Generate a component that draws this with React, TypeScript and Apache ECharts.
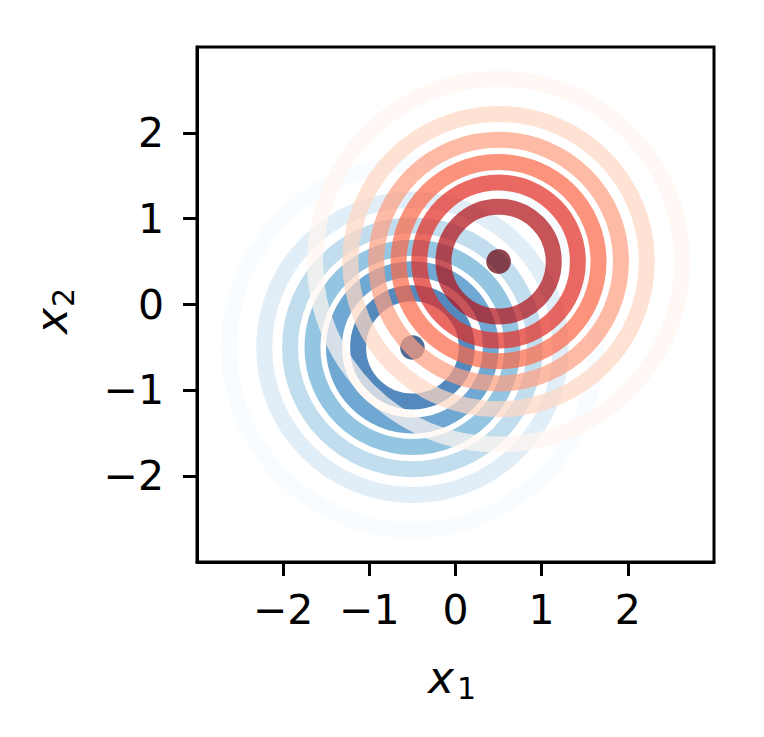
import React, { useEffect, useRef } from "react";
import * as echarts from "echarts";

// Centres of the two distributions (data units)
const blueCenter = [-0.5, -0.5];
const redCenter = [0.5, 0.5];
// Contour radii, outermost (lowest level) to innermost
const blueRadii = [2.13, 1.72, 1.42, 1.16, 0.91, 0.63, 0.05];
const redRadii = [2.13, 1.72, 1.42, 1.16, 0.92, 0.64, 0.05];
// Colours per contour level (lowest -> highest)
const blueColors = ["#f7fbff", "#d6e6f4", "#abd0e6", "#6baed6", "#3787c0", "#105ba4", "#08306b"];
const redColors = ["#fff5f0", "#fdd7c3", "#fca082", "#fb6a4a", "#e32f27", "#b21218", "#67000d"];
// Tick values
const xTicks = [-2, -1, 0, 1, 2];
const yTicks = [-2, -1, 0, 1, 2];

const FONT = "DejaVu Sans";
const LW = 16;
const fmt = (v: number) => (v < 0 ? "\u2212" + Math.abs(v) : String(v));

function ringSeries(center: number[], radii: number[], colors: string[]) {
  return {
    type: "custom",
    coordinateSystem: "cartesian2d",
    silent: true,
    clip: true,
    data: radii.map((r, i) => [center[0], center[1], r, i]),
    renderItem: (_p: any, api: any) => {
      const c = api.coord([api.value(0), api.value(1)]);
      const s = api.size([api.value(2), api.value(2)]);
      const color = colors[api.value(3)];
      const isDot = s[0] < LW / 2;
      if (isDot) {
        return {
          type: "ellipse",
          shape: { cx: c[0], cy: c[1], rx: s[0] + LW / 2, ry: s[1] + LW / 2 },
          style: { fill: color, stroke: "none", opacity: 0.72 },
        };
      }
      return {
        type: "ellipse",
        shape: { cx: c[0], cy: c[1], rx: s[0], ry: s[1] },
        style: {
          fill: "none",
          stroke: color,
          lineWidth: LW,
          opacity: 0.72,
        },
      };
    },
  };
}

export default function App() {
  const ref = useRef<HTMLDivElement>(null);
  useEffect(() => {
    if (!ref.current) return;
    const chart = echarts.init(ref.current, null, { renderer: "svg" });
    const axisCommon = {
      type: "value",
      min: -3,
      max: 3,
      interval: 1,
      splitLine: { show: false },
      axisLine: { show: true, onZero: false, lineStyle: { color: "#000", width: 3 } },
    };
    chart.setOption({
      animation: false,
      backgroundColor: "#fff",
      grid: {
        left: 197,
        top: 47,
        width: 517,
        height: 515,
        show: true,
        borderColor: "#000",
        borderWidth: 3,
        backgroundColor: "transparent",
      },
      xAxis: {
        ...axisCommon,
        axisTick: { show: true, length: 14, lineStyle: { color: "#000", width: 3 }, customValues: xTicks },
        axisLabel: {
          show: true,
          customValues: xTicks,
          formatter: fmt,
          fontFamily: FONT,
          fontSize: 41,
          color: "#000",
          margin: 27,
        },
      },
      yAxis: {
        ...axisCommon,
        axisTick: { show: true, length: 14, lineStyle: { color: "#000", width: 3 }, customValues: yTicks },
        axisLabel: {
          show: true,
          customValues: yTicks,
          formatter: fmt,
          fontFamily: FONT,
          fontSize: 41,
          color: "#000",
          margin: 33,
        },
      },
      graphic: [
        {
          type: "group",
          x: 428,
          y: 692,
          children: [
            { type: "text", x: 0, y: -15, style: { text: "x", font: `italic 44px ${FONT}`, fill: "#000", align: "left", verticalAlign: "middle" } },
            { type: "text", x: 29, y: -4, style: { text: "1", font: `30px ${FONT}`, fill: "#000", align: "left", verticalAlign: "middle" } },
          ],
        },
        {
          type: "group",
          x: 66,
          y: 334,
          rotation: Math.PI / 2,
          children: [
            { type: "text", x: 0, y: -15, style: { text: "x", font: `italic 44px ${FONT}`, fill: "#000", align: "left", verticalAlign: "middle" } },
            { type: "text", x: 27, y: -3, style: { text: "2", font: `30px ${FONT}`, fill: "#000", align: "left", verticalAlign: "middle" } },
          ],
        },
      ],
      series: [ringSeries(blueCenter, blueRadii, blueColors), ringSeries(redCenter, redRadii, redColors)],
    });
    return () => chart.dispose();
  }, []);
  return (
    <div
      ref={ref}
      style={{ position: "absolute", left: 0, top: 0, width: 764, height: 737 }}
    />
  );
}
